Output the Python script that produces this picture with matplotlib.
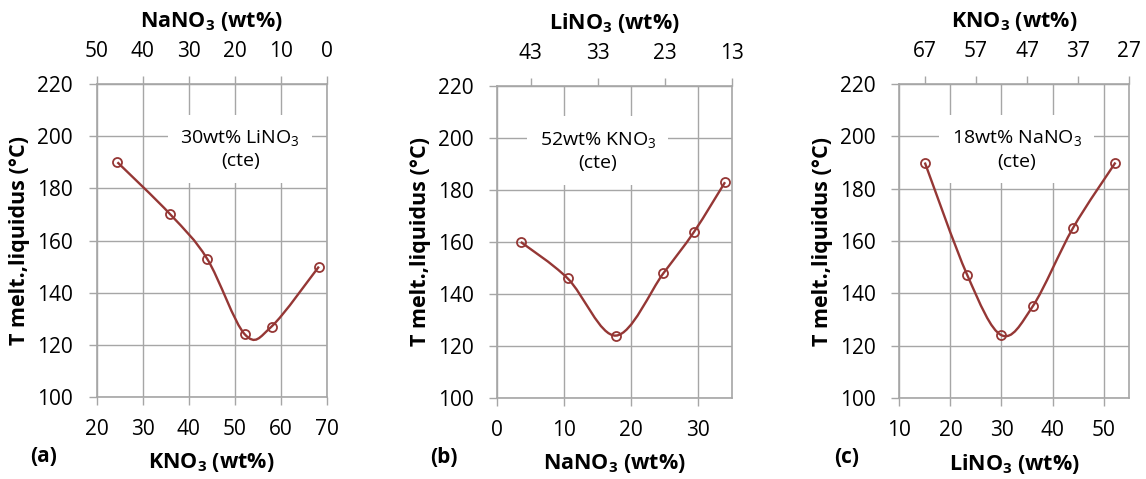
import numpy as np
import matplotlib
matplotlib.use('Agg')
import matplotlib.pyplot as plt
from matplotlib.path import Path
from matplotlib.patches import PathPatch

plt.rcParams['font.family'] = ['Open Sans', 'DejaVu Sans']
plt.rcParams['mathtext.default'] = 'regular'

# =============================================================================
# DATOS
# =============================================================================

# (a) 30 wt% LiNO3 constante
kno3_a = [24.5, 36.0, 44.0, 52.2, 58.0, 68.3]
temp_a = [190, 170, 153, 124, 127, 150]

# (b) 52 wt% KNO3 constante
nano3_b = [3.5, 10.5, 17.7, 24.8, 29.4, 34.0]
temp_b = [160, 146, 124, 148, 164, 183]

# (c) 18 wt% NaNO3 constante
lino3_c = [15.0, 23.3, 30.0, 36.1, 44.0, 52.3]
temp_c = [190, 147, 124, 135, 165, 190]

yticks = [100, 120, 140, 160, 180, 200, 220]

color_line = '#953735'
color_grid = '#a6a6a6'


def curva_suave(ax, x, y):
    # curva tipo "smoothed line" (Bezier con tangentes Catmull-Rom)
    x = np.asarray(x, float)
    y = np.asarray(y, float)
    n = len(x)
    verts = [(x[0], y[0])]
    codes = [Path.MOVETO]
    for i in range(n - 1):
        i0 = max(i - 1, 0)
        i3 = min(i + 2, n - 1)
        c1 = (x[i] + (x[i+1] - x[i0]) / 6, y[i] + (y[i+1] - y[i0]) / 6)
        c2 = (x[i+1] - (x[i3] - x[i]) / 6, y[i+1] - (y[i3] - y[i]) / 6)
        verts += [c1, c2, (x[i+1], y[i+1])]
        codes += [Path.CURVE4] * 3
    ax.add_patch(PathPatch(Path(verts, codes), fill=False, edgecolor=color_line,
                           lw=1.7, zorder=3))
    ax.plot(x, y, 'o', mfc='none', mec=color_line, ms=6.5, mew=1.3, zorder=4)


def panel(rect, x, y, xlim, xticks, top_fun, top_ticks, xlabel, toplabel,
          texto, tx, letra):
    ax = fig.add_axes(rect)
    ax.set_xlim(*xlim)
    ax.set_ylim(100, 220)
    ax.set_xticks(xticks)
    ax.set_yticks(yticks)
    ax.grid(True, color=color_grid, lw=1.0)
    ax.set_axisbelow(True)
    for s in ax.spines.values():
        s.set_color(color_grid)
        s.set_linewidth(1.2)
    ax.tick_params(axis='both', direction='out', length=6, width=1.0,
                   color=color_grid, labelsize=15)
    ax.tick_params(axis='y', pad=11)
    ax.tick_params(axis='x', pad=10)

    curva_suave(ax, x, y)

    sec = ax.secondary_xaxis('top', functions=(top_fun, top_fun))
    sec.set_xticks(top_ticks)
    sec.spines['top'].set_color(color_grid)
    sec.tick_params(direction='out', length=6, width=1.0, color=color_grid,
                    labelsize=15, pad=10)
    sec.set_xlabel(toplabel, fontsize=15.5, fontweight='bold', labelpad=10)

    ax.set_xlabel(xlabel, fontsize=15.5, fontweight='bold', labelpad=8)
    ax.set_ylabel('T melt.,liquidus (°C)', fontsize=15.5, fontweight='bold',
                  labelpad=5)

    ax.text(tx, 195, texto, ha='center', va='center', fontsize=14,
            linespacing=1.3, zorder=2,
            bbox=dict(facecolor='white', edgecolor='none', pad=9))
    ax.text(-0.23, -0.19, letra, transform=ax.transAxes, fontsize=15,
            fontweight='bold', ha='center', va='center')
    return ax


fig = plt.figure(figsize=(11.46, 4.79), dpi=100)

panel([0.0844, 0.1712, 0.2007, 0.6534], kno3_a, temp_a, (20, 70),
      [20, 30, 40, 50, 60, 70], lambda v: 70 - v, [50, 40, 30, 20, 10, 0],
      r'KNO$_3$ (wt%)', r'NaNO$_3$ (wt%)', '30wt% LiNO$_3$\n(cte)', 51.2, '(a)')

panel([0.4340, 0.1691, 0.2045, 0.6514], nano3_b, temp_b, (0, 35),
      [0, 10, 20, 30], lambda v: 48 - v, [43, 33, 23, 13],
      r'NaNO$_3$ (wt%)', r'LiNO$_3$ (wt%)', '52wt% KNO$_3$\n(cte)', 15.0, '(b)')

panel([0.7847, 0.1691, 0.2007, 0.6555], lino3_c, temp_c, (10, 55),
      [10, 20, 30, 40, 50], lambda v: 82 - v, [67, 57, 47, 37, 27],
      r'LiNO$_3$ (wt%)', r'KNO$_3$ (wt%)', '18wt% NaNO$_3$\n(cte)', 33.0, '(c)')

fig.savefig('out.png', dpi=100)
